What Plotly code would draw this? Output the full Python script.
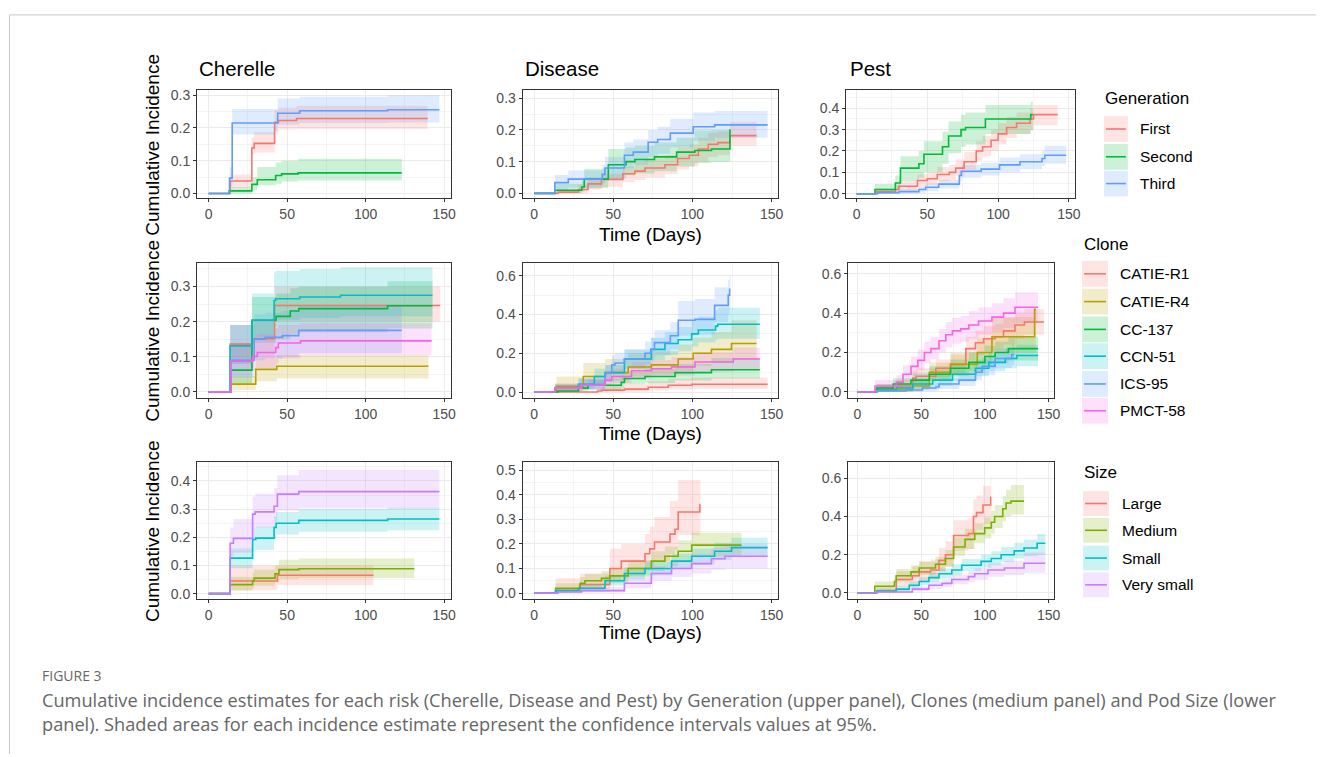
import plotly.graph_objects as go

W, H = 1322, 757

# ================= DATA (time, estimate, lower 95% CI, upper 95% CI) =================
# ---- Cherelle by Generation ----
ch_first_t = [0, 13.7, 27.5, 29, 42, 44.4, 56, 139.5]
ch_first_e = [0, 0.038, 0.139, 0.153, 0.217, 0.223, 0.229, 0.229]
ch_first_lo = [0, 0.018, 0.12, 0.125, 0.19, 0.195, 0.197, 0.197]
ch_first_hi = [0, 0.058, 0.17, 0.187, 0.255, 0.262, 0.268, 0.268]
ch_second_t = [0, 13, 27.5, 31, 42.7, 46.5, 57, 123]
ch_second_e = [0, 0.008, 0.028, 0.042, 0.055, 0.06, 0.063, 0.063]
ch_second_lo = [0, 0, 0.01, 0.025, 0.03, 0.037, 0.04, 0.04]
ch_second_hi = [0, 0.02, 0.05, 0.081, 0.095, 0.1, 0.106, 0.106]
ch_third_t = [0, 13.3, 15, 44, 58, 114, 147]
ch_third_e = [0, 0.047, 0.215, 0.245, 0.2525, 0.2556, 0.2556]
ch_third_lo = [0, 0.02, 0.18, 0.21, 0.215, 0.217, 0.217]
ch_third_hi = [0, 0.08, 0.258, 0.29, 0.295, 0.3, 0.3]

# ---- Disease by Generation ----
di_first_t = [0, 15, 28, 34, 42.5, 56, 63.6, 70, 82.6, 90.6, 98, 103.7, 110, 116, 123.7, 140.5]
di_first_e = [0, 0.004, 0.012, 0.03, 0.044, 0.062, 0.07, 0.08, 0.09, 0.11, 0.12, 0.14, 0.155, 0.16, 0.182, 0.182]
di_first_lo = [0, 0, 0, 0.012, 0.02, 0.035, 0.042, 0.05, 0.06, 0.075, 0.085, 0.1, 0.115, 0.12, 0.15, 0.15]
di_first_hi = [0, 0.012, 0.028, 0.05, 0.062, 0.085, 0.098, 0.11, 0.12, 0.145, 0.155, 0.175, 0.19, 0.195, 0.225, 0.225]
di_second_t = [0, 13, 30, 31.6, 46.8, 58, 63.6, 76, 90, 101.5, 112, 123.7, 124]
di_second_e = [0, 0.01, 0.02, 0.045, 0.09, 0.1, 0.107, 0.115, 0.13, 0.135, 0.14, 0.2, 0.2]
di_second_lo = [0, 0, 0.005, 0.016, 0.047, 0.057, 0.063, 0.07, 0.085, 0.095, 0.1, 0.1, 0.1]
di_second_hi = [0, 0.03, 0.04, 0.078, 0.14, 0.145, 0.15, 0.16, 0.175, 0.198, 0.2, 0.2, 0.2]
di_third_t = [0, 13, 21.5, 43, 44.7, 57, 62.6, 72, 78, 86, 100.5, 114, 147.5]
di_third_e = [0, 0.034, 0.045, 0.06, 0.08, 0.12, 0.13, 0.161, 0.17, 0.19, 0.21, 0.216, 0.216]
di_third_lo = [0, 0.01, 0.018, 0.03, 0.045, 0.08, 0.09, 0.115, 0.125, 0.145, 0.165, 0.175, 0.178]
di_third_hi = [0, 0.058, 0.072, 0.09, 0.115, 0.16, 0.17, 0.2, 0.21, 0.235, 0.255, 0.26, 0.26]

# ---- Pest by Generation ----
pe_first_t = [0, 14, 27.4, 29.8, 43, 50, 57, 65.5, 70, 76, 84.5, 89, 95, 100, 106, 113, 122.6, 125, 142]
pe_first_e = [0, 0.01, 0.02, 0.035, 0.062, 0.07, 0.09, 0.1, 0.12, 0.15, 0.2, 0.22, 0.25, 0.28, 0.31, 0.33, 0.35, 0.37, 0.37]
pe_first_lo = [0, 0, 0.005, 0.015, 0.035, 0.042, 0.058, 0.066, 0.082, 0.11, 0.155, 0.175, 0.2, 0.23, 0.26, 0.28, 0.3, 0.32, 0.32]
pe_first_hi = [0, 0.025, 0.04, 0.06, 0.09, 0.1, 0.125, 0.135, 0.16, 0.195, 0.245, 0.27, 0.3, 0.33, 0.36, 0.38, 0.4, 0.415, 0.415]
pe_second_t = [0, 13, 27.4, 31, 44, 47.6, 60.7, 65, 73.8, 77, 91, 123, 124.5]
pe_second_e = [0, 0.02, 0.05, 0.12, 0.14, 0.185, 0.22, 0.27, 0.3, 0.31, 0.35, 0.37, 0.37]
pe_second_lo = [0, 0.003, 0.02, 0.06, 0.075, 0.1, 0.14, 0.19, 0.22, 0.23, 0.28, 0.295, 0.295]
pe_second_hi = [0, 0.045, 0.085, 0.175, 0.2, 0.246, 0.29, 0.338, 0.37, 0.38, 0.415, 0.43, 0.43]
pe_third_t = [0, 15, 30, 44, 48.8, 58, 72.6, 74, 88, 101, 115.4, 131, 133, 148]
pe_third_e = [0, 0.005, 0.01, 0.02, 0.03, 0.045, 0.085, 0.105, 0.115, 0.135, 0.15, 0.165, 0.18, 0.18]
pe_third_lo = [0, 0, 0, 0.005, 0.012, 0.025, 0.06, 0.075, 0.085, 0.1, 0.115, 0.13, 0.14, 0.14]
pe_third_hi = [0, 0.015, 0.022, 0.035, 0.048, 0.065, 0.115, 0.135, 0.145, 0.17, 0.185, 0.2, 0.225, 0.225]

# ---- Cherelle by Clone ----
ch_r1_t = [0, 13.7, 28, 42, 147.5]
ch_r1_e = [0, 0.136, 0.151, 0.246, 0.246]
ch_r1_lo = [0, 0.08, 0.095, 0.2, 0.2]
ch_r1_hi = [0, 0.19, 0.205, 0.3, 0.3]
ch_r4_t = [0, 14.3, 30, 43.4, 140]
ch_r4_e = [0, 0.022, 0.064, 0.073, 0.073]
ch_r4_lo = [0, 0.005, 0.03, 0.038, 0.038]
ch_r4_hi = [0, 0.045, 0.095, 0.105, 0.105]
ch_cc_t = [0, 14.3, 27.6, 43, 52, 57.4, 114, 142.6]
ch_cc_e = [0, 0.062, 0.204, 0.215, 0.23, 0.237, 0.245, 0.245]
ch_cc_lo = [0, 0.02, 0.14, 0.15, 0.165, 0.17, 0.18, 0.18]
ch_cc_hi = [0, 0.13, 0.27, 0.28, 0.295, 0.3, 0.315, 0.315]
ch_ccn_t = [0, 13.7, 27.6, 41.7, 42.7, 58, 84, 142.6]
ch_ccn_e = [0, 0.131, 0.204, 0.26, 0.265, 0.27, 0.275, 0.275]
ch_ccn_lo = [0, 0.08, 0.15, 0.2, 0.205, 0.21, 0.215, 0.215]
ch_ccn_hi = [0, 0.19, 0.28, 0.34, 0.345, 0.35, 0.355, 0.355]
ch_ics_t = [0, 13.7, 29, 36, 47, 57.4, 123]
ch_ics_e = [0, 0.09, 0.15, 0.155, 0.16, 0.175, 0.175]
ch_ics_lo = [0, 0.04, 0.09, 0.095, 0.1, 0.11, 0.11]
ch_ics_hi = [0, 0.19, 0.22, 0.225, 0.23, 0.245, 0.245]
ch_pm_t = [0, 14.3, 28, 31, 42.7, 44.4, 58.5, 142]
ch_pm_e = [0, 0.087, 0.101, 0.112, 0.126, 0.139, 0.145, 0.145]
ch_pm_lo = [0, 0.045, 0.06, 0.068, 0.08, 0.095, 0.105, 0.105]
ch_pm_hi = [0, 0.14, 0.155, 0.165, 0.18, 0.19, 0.195, 0.195]

# ---- Disease by Clone ----
di_r1_t = [0, 40, 42.6, 57, 72, 84.7, 99.5, 147.5]
di_r1_e = [0, 0.005, 0.01, 0.015, 0.025, 0.035, 0.04, 0.04]
di_r1_lo = [0, 0, 0, 0.002, 0.008, 0.013, 0.016, 0.016]
di_r1_hi = [0, 0.02, 0.03, 0.04, 0.055, 0.068, 0.075, 0.075]
di_r4_t = [0, 14, 31, 44.7, 59.4, 74, 91, 100.5, 112, 124.7, 140.5]
di_r4_e = [0, 0.03, 0.08, 0.1, 0.129, 0.14, 0.17, 0.2, 0.22, 0.25, 0.25]
di_r4_lo = [0, 0.005, 0.04, 0.055, 0.08, 0.09, 0.11, 0.135, 0.15, 0.17, 0.17]
di_r4_hi = [0, 0.08, 0.15, 0.17, 0.2, 0.21, 0.245, 0.28, 0.31, 0.37, 0.37]
di_cc_t = [0, 15, 28, 34, 55, 57, 70, 89, 112, 142.6]
di_cc_e = [0, 0.005, 0.02, 0.035, 0.05, 0.07, 0.08, 0.1, 0.115, 0.115]
di_cc_lo = [0, 0, 0.003, 0.012, 0.022, 0.04, 0.045, 0.06, 0.07, 0.07]
di_cc_hi = [0, 0.02, 0.045, 0.065, 0.085, 0.105, 0.12, 0.145, 0.175, 0.175]
di_ccn_t = [0, 13, 28, 38, 45, 57, 74, 82.6, 91, 99.5, 103.7, 114.6, 116, 142.6]
di_ccn_e = [0, 0.02, 0.04, 0.08, 0.1, 0.17, 0.22, 0.25, 0.27, 0.3, 0.32, 0.34, 0.35, 0.35]
di_ccn_lo = [0, 0.003, 0.015, 0.045, 0.062, 0.12, 0.165, 0.19, 0.21, 0.235, 0.255, 0.27, 0.275, 0.275]
di_ccn_hi = [0, 0.04, 0.07, 0.12, 0.14, 0.22, 0.28, 0.31, 0.335, 0.37, 0.39, 0.42, 0.435, 0.435]
di_ics_t = [0, 13, 28, 44.7, 49, 51, 57, 70, 73.7, 76, 86, 91, 101.6, 114, 122.6, 123.5, 124]
di_ics_e = [0, 0.02, 0.04, 0.099, 0.14, 0.15, 0.17, 0.2, 0.22, 0.255, 0.29, 0.37, 0.375, 0.447, 0.5, 0.53, 0.53]
di_ics_lo = [0, 0.003, 0.015, 0.06, 0.095, 0.1, 0.12, 0.145, 0.16, 0.19, 0.22, 0.29, 0.295, 0.36, 0.4, 0.43, 0.43]
di_ics_hi = [0, 0.04, 0.07, 0.14, 0.19, 0.2, 0.22, 0.26, 0.28, 0.32, 0.36, 0.47, 0.48, 0.54, 0.58, 0.6, 0.6]
di_pm_t = [0, 13, 30, 44.7, 49, 61.5, 74, 86.8, 101.6, 125.8, 142.6]
di_pm_e = [0, 0.02, 0.035, 0.06, 0.08, 0.11, 0.12, 0.13, 0.155, 0.17, 0.17]
di_pm_lo = [0, 0.003, 0.012, 0.03, 0.045, 0.07, 0.078, 0.085, 0.105, 0.115, 0.115]
di_pm_hi = [0, 0.045, 0.065, 0.1, 0.12, 0.155, 0.165, 0.18, 0.205, 0.23, 0.23]

# ---- Pest by Clone ----
pe_r1_t = [0, 15, 30.5, 43.4, 46, 61.5, 73, 85, 92.6, 99, 108, 114.6, 123.6, 131, 146.4]
pe_r1_e = [0, 0.015, 0.03, 0.07, 0.08, 0.12, 0.14, 0.22, 0.25, 0.27, 0.28, 0.31, 0.34, 0.355, 0.355]
pe_r1_lo = [0, 0.002, 0.008, 0.035, 0.042, 0.075, 0.09, 0.16, 0.185, 0.205, 0.215, 0.24, 0.27, 0.29, 0.29]
pe_r1_hi = [0, 0.04, 0.06, 0.11, 0.12, 0.165, 0.19, 0.28, 0.31, 0.335, 0.345, 0.375, 0.405, 0.42, 0.42]
pe_r4_t = [0, 15, 43.4, 56.4, 73, 94, 105.5, 139, 140]
pe_r4_e = [0, 0.01, 0.03, 0.1, 0.14, 0.2, 0.28, 0.42, 0.42]
pe_r4_lo = [0, 0, 0.008, 0.06, 0.09, 0.14, 0.2, 0.2, 0.2]
pe_r4_hi = [0, 0.03, 0.06, 0.15, 0.2, 0.27, 0.38, 0.42, 0.42]
pe_cc_t = [0, 15, 28, 42, 56.4, 73, 87.4, 100, 108, 118.4, 141.7]
pe_cc_e = [0, 0.02, 0.04, 0.06, 0.09, 0.12, 0.15, 0.18, 0.2, 0.22, 0.22]
pe_cc_lo = [0, 0.004, 0.015, 0.03, 0.055, 0.08, 0.105, 0.13, 0.145, 0.16, 0.16]
pe_cc_hi = [0, 0.04, 0.07, 0.095, 0.13, 0.165, 0.2, 0.235, 0.255, 0.28, 0.28]
pe_ccn_t = [0, 15, 30.5, 43.4, 59, 74.5, 92.6, 103, 116, 125, 141.7]
pe_ccn_e = [0, 0.01, 0.02, 0.04, 0.06, 0.09, 0.12, 0.15, 0.17, 0.185, 0.185]
pe_ccn_lo = [0, 0, 0.004, 0.015, 0.03, 0.055, 0.08, 0.105, 0.12, 0.13, 0.13]
pe_ccn_hi = [0, 0.025, 0.04, 0.07, 0.095, 0.13, 0.165, 0.2, 0.22, 0.24, 0.24]
pe_ics_t = [0, 15, 38, 51, 61.5, 64, 79.6, 92.6, 97.7, 108, 121, 123]
pe_ics_e = [0, 0.005, 0.01, 0.02, 0.025, 0.04, 0.06, 0.1, 0.13, 0.17, 0.19, 0.19]
pe_ics_lo = [0, 0, 0, 0.003, 0.006, 0.015, 0.03, 0.06, 0.085, 0.12, 0.135, 0.135]
pe_ics_hi = [0, 0.015, 0.025, 0.04, 0.05, 0.07, 0.095, 0.145, 0.175, 0.22, 0.245, 0.245]
pe_pm_t = [0, 13.7, 30.5, 35.7, 42, 47.3, 52.5, 57.7, 64, 69.3, 74.5, 81, 87.4, 95, 105.5, 114.6, 123.6, 141.7]
pe_pm_e = [0, 0.03, 0.05, 0.09, 0.13, 0.16, 0.2, 0.22, 0.26, 0.29, 0.31, 0.32, 0.34, 0.36, 0.38, 0.4, 0.43, 0.43]
pe_pm_lo = [0, 0.008, 0.02, 0.05, 0.085, 0.11, 0.145, 0.165, 0.2, 0.225, 0.245, 0.255, 0.27, 0.29, 0.305, 0.325, 0.35, 0.35]
pe_pm_hi = [0, 0.06, 0.085, 0.135, 0.18, 0.215, 0.255, 0.28, 0.32, 0.355, 0.375, 0.385, 0.41, 0.43, 0.45, 0.475, 0.505, 0.505]

# ---- Cherelle by Size ----
ch_lg_t = [0, 13.7, 43.8, 105]
ch_lg_e = [0, 0.045, 0.065, 0.065]
ch_lg_lo = [0, 0.012, 0.03, 0.03]
ch_lg_hi = [0, 0.1, 0.1, 0.1]
ch_md_t = [0, 13.7, 28, 29, 42.3, 44.8, 57.4, 131]
ch_md_e = [0, 0.032, 0.045, 0.055, 0.07, 0.085, 0.088, 0.088]
ch_md_lo = [0, 0.01, 0.02, 0.028, 0.04, 0.052, 0.055, 0.055]
ch_md_hi = [0, 0.06, 0.075, 0.085, 0.1, 0.12, 0.125, 0.125]
ch_sm_t = [0, 13.7, 28, 30, 41.7, 43, 57.4, 114, 147]
ch_sm_e = [0, 0.126, 0.192, 0.197, 0.235, 0.25, 0.26, 0.265, 0.265]
ch_sm_lo = [0, 0.09, 0.15, 0.155, 0.195, 0.21, 0.22, 0.225, 0.225]
ch_sm_hi = [0, 0.16, 0.232, 0.238, 0.275, 0.29, 0.3, 0.305, 0.305]
ch_vs_t = [0, 13.7, 15.8, 28, 29.7, 41.7, 43.8, 57.4, 147]
ch_vs_e = [0, 0.179, 0.196, 0.282, 0.29, 0.31, 0.353, 0.362, 0.362]
ch_vs_lo = [0, 0.13, 0.145, 0.23, 0.235, 0.255, 0.295, 0.303, 0.303]
ch_vs_hi = [0, 0.235, 0.265, 0.345, 0.355, 0.375, 0.42, 0.44, 0.44]

# ---- Disease by Size ----
di_lg_t = [0, 13.5, 29, 47.8, 55, 70, 73, 76, 85.8, 89, 91, 104.7, 105]
di_lg_e = [0, 0.01, 0.035, 0.1, 0.13, 0.16, 0.18, 0.208, 0.24, 0.26, 0.33, 0.36, 0.36]
di_lg_lo = [0, 0, 0.005, 0.047, 0.07, 0.095, 0.11, 0.13, 0.16, 0.175, 0.235, 0.25, 0.25]
di_lg_hi = [0, 0.06, 0.08, 0.18, 0.2, 0.24, 0.27, 0.31, 0.375, 0.375, 0.46, 0.46, 0.46]
di_md_t = [0, 13.5, 29, 32, 42.5, 47.8, 59.4, 74, 82.6, 91, 99.5, 131]
di_md_e = [0, 0.02, 0.04, 0.05, 0.06, 0.07, 0.1, 0.13, 0.15, 0.17, 0.195, 0.195]
di_md_lo = [0, 0.005, 0.018, 0.025, 0.033, 0.04, 0.065, 0.09, 0.108, 0.125, 0.15, 0.15]
di_md_hi = [0, 0.04, 0.065, 0.078, 0.09, 0.1, 0.135, 0.17, 0.19, 0.215, 0.245, 0.245]
di_sm_t = [0, 13.5, 28, 44.7, 57, 70, 86.8, 99.5, 114, 124.7, 147.5]
di_sm_e = [0, 0.01, 0.02, 0.05, 0.08, 0.1, 0.13, 0.15, 0.17, 0.185, 0.185]
di_sm_lo = [0, 0.002, 0.008, 0.03, 0.055, 0.072, 0.1, 0.115, 0.135, 0.15, 0.15]
di_sm_hi = [0, 0.02, 0.035, 0.072, 0.105, 0.128, 0.16, 0.18, 0.205, 0.225, 0.225]
di_vs_t = [0, 15, 30, 57, 74, 86.8, 99.5, 112, 120.5, 147.5]
di_vs_e = [0, 0.005, 0.01, 0.04, 0.08, 0.1, 0.12, 0.14, 0.15, 0.15]
di_vs_lo = [0, 0, 0.002, 0.02, 0.05, 0.065, 0.08, 0.095, 0.1, 0.1]
di_vs_hi = [0, 0.015, 0.025, 0.065, 0.11, 0.135, 0.16, 0.185, 0.2, 0.2]

# ---- Pest by Size ----
pe_lg_t = [0, 15, 30.4, 43, 48.4, 57.4, 64, 69, 75.4, 87, 91, 93.4, 98.5, 104.5, 105]
pe_lg_e = [0, 0.01, 0.07, 0.09, 0.11, 0.12, 0.17, 0.2, 0.3, 0.31, 0.4, 0.42, 0.46, 0.5, 0.5]
pe_lg_lo = [0, 0, 0.03, 0.045, 0.06, 0.07, 0.11, 0.135, 0.22, 0.23, 0.31, 0.33, 0.36, 0.4, 0.4]
pe_lg_hi = [0, 0.03, 0.115, 0.14, 0.165, 0.175, 0.235, 0.27, 0.38, 0.39, 0.49, 0.51, 0.56, 0.61, 0.61]
pe_md_t = [0, 13.6, 29, 30.4, 42, 48.4, 61.2, 69, 75.4, 84.4, 92, 99.8, 105, 107.6, 114, 116.6, 120.4, 130.7]
pe_md_e = [0, 0.035, 0.06, 0.09, 0.11, 0.13, 0.15, 0.18, 0.24, 0.28, 0.31, 0.34, 0.37, 0.4, 0.44, 0.47, 0.48, 0.48]
pe_md_lo = [0, 0.015, 0.035, 0.06, 0.08, 0.095, 0.115, 0.14, 0.195, 0.23, 0.26, 0.285, 0.31, 0.34, 0.375, 0.4, 0.41, 0.41]
pe_md_hi = [0, 0.06, 0.09, 0.125, 0.145, 0.165, 0.19, 0.225, 0.29, 0.335, 0.365, 0.395, 0.43, 0.46, 0.505, 0.54, 0.565, 0.565]
pe_sm_t = [0, 15, 30.4, 40.6, 48.4, 56, 64, 74, 81.8, 97, 105, 112.7, 123, 130.7, 141, 147.4]
pe_sm_e = [0, 0.01, 0.02, 0.04, 0.06, 0.08, 0.1, 0.12, 0.145, 0.165, 0.18, 0.2, 0.22, 0.235, 0.26, 0.26]
pe_sm_lo = [0, 0.002, 0.008, 0.022, 0.04, 0.057, 0.074, 0.092, 0.115, 0.132, 0.145, 0.162, 0.18, 0.192, 0.2, 0.2]
pe_sm_hi = [0, 0.02, 0.035, 0.06, 0.082, 0.105, 0.128, 0.15, 0.178, 0.2, 0.218, 0.24, 0.262, 0.28, 0.31, 0.31]
pe_vs_t = [0, 15, 43, 56, 66.4, 74, 87, 92, 102.4, 115.3, 130.7, 147.4]
pe_vs_e = [0, 0.005, 0.02, 0.04, 0.05, 0.07, 0.085, 0.1, 0.12, 0.13, 0.155, 0.155]
pe_vs_lo = [0, 0, 0.008, 0.022, 0.03, 0.045, 0.057, 0.068, 0.085, 0.093, 0.105, 0.105]
pe_vs_hi = [0, 0.015, 0.035, 0.06, 0.072, 0.095, 0.113, 0.13, 0.155, 0.168, 0.212, 0.212]

# ---- labels ----
risks = ["Cherelle", "Disease", "Pest"]
legend_titles = ["Generation", "Clone", "Size"]
gen_labels = ["First", "Second", "Third"]
clone_labels = ["CATIE-R1", "CATIE-R4", "CC-137", "CCN-51", "ICS-95", "PMCT-58"]
size_labels = ["Large", "Medium", "Small", "Very small"]
x_ticks = [0, 50, 100, 150]
x_minor = [25, 75, 125]
y_title = "Cumulative Incidence"
x_title = "Time (Days)"
caption_head = "FIGURE 3"
caption_l1 = ("Cumulative incidence estimates for each risk (Cherelle, Disease and Pest) by Generation "
              "(upper panel), Clones (medium panel) and Pod Size (lower")
caption_l2 = "panel). Shaded areas for each incidence estimate represent the confidence intervals values at 95%."

# ================= STYLE =================
PAL3 = ["#F8766D", "#00BA38", "#619CFF"]
PAL6 = ["#F8766D", "#B79F00", "#00BA38", "#00BFC4", "#619CFF", "#F564E3"]
PAL4 = ["#F8766D", "#7CAE00", "#00BFC4", "#C77CFF"]
FONT = "Liberation Sans, Arial, sans-serif"


def rgba(hx, a):
    hx = hx.lstrip("#")
    r, g, b = int(hx[0:2], 16), int(hx[2:4], 16), int(hx[4:6], 16)
    return f"rgba({r},{g},{b},{a})"


def fx(x):
    return x / W


def fy(y):
    return 1 - y / H


# curves per panel: rows = grouping, cols = risk
G = globals()
row_groups = [
    (["first", "second", "third"], PAL3),
    (["r1", "r4", "cc", "ccn", "ics", "pm"], PAL6),
    (["lg", "md", "sm", "vs"], PAL4),
]
risk_prefix = ["ch", "di", "pe"]

col_px = [[(198, 453), (525, 782), (850, 1080)],
          [(198, 453), (525, 782), (852, 1059)],
          [(198, 453), (525, 782), (852, 1059)]]
row_px = [(88, 197), (262, 398), (463, 601)]
y_ranges = [[(-0.015, 0.315), (-0.016, 0.325), (-0.022, 0.484)],
            [(-0.017, 0.367), (-0.03, 0.666), (-0.03, 0.655)],
            [(-0.02, 0.466), (-0.025, 0.532), (-0.033, 0.683)]]
y_ticks = [[[0, 0.1, 0.2, 0.3], [0, 0.1, 0.2, 0.3], [0, 0.1, 0.2, 0.3, 0.4]],
           [[0, 0.1, 0.2, 0.3], [0, 0.2, 0.4, 0.6], [0, 0.2, 0.4, 0.6]],
           [[0, 0.1, 0.2, 0.3, 0.4], [0, 0.1, 0.2, 0.3, 0.4, 0.5], [0, 0.2, 0.4, 0.6]]]
y_minor = [[[0.05, 0.15, 0.25], [0.05, 0.15, 0.25], [0.05, 0.15, 0.25, 0.35, 0.45]],
           [[0.05, 0.15, 0.25, 0.35], [0.1, 0.3, 0.5], [0.1, 0.3, 0.5]],
           [[0.05, 0.15, 0.25, 0.35, 0.45], [0.05, 0.15, 0.25, 0.35, 0.45], [0.1, 0.3, 0.5]]]

fig = go.Figure()
layout = {}
for r in range(3):
    keys, pal = row_groups[r]
    for c in range(3):
        i = r * 3 + c + 1
        xa, ya = f"x{i}", f"y{i}"
        pre = risk_prefix[c]
        # ribbons
        for k, col in zip(keys, pal):
            t = G[f"{pre}_{k}_t"]
            fig.add_trace(go.Scatter(x=t, y=G[f"{pre}_{k}_hi"], mode="lines", line=dict(width=0, shape="hv"),
                                     xaxis=xa, yaxis=ya, showlegend=False, hoverinfo="skip"))
            fig.add_trace(go.Scatter(x=t, y=G[f"{pre}_{k}_lo"], mode="lines", line=dict(width=0, shape="hv"),
                                     fill="tonexty", fillcolor=rgba(col, 0.2),
                                     xaxis=xa, yaxis=ya, showlegend=False, hoverinfo="skip"))
        for k, col in zip(keys, pal):
            fig.add_trace(go.Scatter(x=G[f"{pre}_{k}_t"], y=G[f"{pre}_{k}_e"], mode="lines",
                                     line=dict(width=1.6, color=col, shape="hv"),
                                     xaxis=xa, yaxis=ya, showlegend=False))
        x0, x1 = col_px[r][c]
        y0, y1 = row_px[r]
        axcommon = dict(showline=True, mirror=True, linecolor="#333333", linewidth=1,
                        ticks="outside", ticklen=3, tickcolor="#333333", tickwidth=1,
                        showgrid=True, gridcolor="#ebebeb", gridwidth=1.1, zeroline=False,
                        tickfont=dict(family=FONT, size=14, color="#4d4d4d"))
        layout["xaxis" + ("" if i == 1 else str(i))] = dict(
            domain=[fx(x0), fx(x1)], range=[-7.35, 154.35], anchor=ya,
            tickmode="array", tickvals=x_ticks,
            minor=dict(tickvals=x_minor, showgrid=True, gridcolor="#f4f4f4", gridwidth=0.6, ticks=""),
            **axcommon)
        layout["yaxis" + ("" if i == 1 else str(i))] = dict(
            domain=[fy(y1), fy(y0)], range=list(y_ranges[r][c]), anchor=xa,
            tickmode="array", tickvals=y_ticks[r][c], tickformat=".1f",
            minor=dict(tickvals=y_minor[r][c], showgrid=True, gridcolor="#f4f4f4", gridwidth=0.6, ticks=""),
            **axcommon)

ann = []
shapes = []
# panel titles
title_x = [198, 525, 852]
for c in range(3):
    ann.append(dict(text=risks[c], x=fx(title_x[c]), y=fy(66), xref="paper", yref="paper",
                    xanchor="left", yanchor="middle", showarrow=False,
                    font=dict(family=FONT, size=20.5, color="#000")))
# axis titles
for r in range(3):
    y0, y1 = row_px[r]
    ann.append(dict(text=y_title, x=fx(153), y=fy((y0 + y1) / 2), xref="paper", yref="paper",
                    textangle=-90, xanchor="center", yanchor="middle", showarrow=False,
                    font=dict(family=FONT, size=19, color="#000")))
for yy in [233, 434, 635]:
    ann.append(dict(text=x_title, x=fx(653.5), y=fy(yy), xref="paper", yref="paper",
                    xanchor="center", yanchor="middle", showarrow=False,
                    font=dict(family=FONT, size=19, color="#000")))

# legends
legend_specs = [
    (legend_titles[0], gen_labels, PAL3, 1108, 96, 1109, 1133, 1143, [114, 142, 169], 26),
    (legend_titles[1], clone_labels, PAL6, 1087, 243, 1087, 1113, 1123, [260, 288, 316, 343, 371, 398], 26),
    (legend_titles[2], size_labels, PAL4, 1087, 473, 1088, 1114, 1125, [492, 519, 547, 574], 25),
]
for title, labels, pal, tx, ty, kx0, kx1, lx, tops, kh in legend_specs:
    ann.append(dict(text=title, x=fx(tx), y=fy(ty), xref="paper", yref="paper",
                    xanchor="left", yanchor="middle", showarrow=False,
                    font=dict(family=FONT, size=17, color="#000")))
    for lab, col, top in zip(labels, pal, tops):
        shapes.append(dict(type="rect", xref="paper", yref="paper", x0=fx(kx0), x1=fx(kx1),
                           y0=fy(top + kh), y1=fy(top), fillcolor=rgba(col, 0.2), line=dict(width=0)))
        shapes.append(dict(type="line", xref="paper", yref="paper", x0=fx(kx0 + 2), x1=fx(kx1 - 2),
                           y0=fy(top + kh / 2), y1=fy(top + kh / 2), line=dict(color=col, width=1.6)))
        ann.append(dict(text=lab, x=fx(lx), y=fy(top + kh / 2), xref="paper", yref="paper",
                        xanchor="left", yanchor="middle", showarrow=False,
                        font=dict(family=FONT, size=15.5, color="#000")))

# caption
ann.append(dict(text=caption_head, x=fx(40), y=fy(678), xref="paper", yref="paper",
                xanchor="left", yanchor="middle", showarrow=False,
                font=dict(family="Open Sans, sans-serif", size=14, color="#666")))
for txt, yy in [(caption_l1, 703), (caption_l2, 727)]:
    ann.append(dict(text=txt, x=fx(40), y=fy(yy), xref="paper", yref="paper",
                    xanchor="left", yanchor="middle", showarrow=False,
                    font=dict(family="Open Sans, sans-serif", size=18.2, color="#666")))

# card frame
shapes.append(dict(type="line", xref="paper", yref="paper", x0=fx(9.5), x1=1, y0=fy(12), y1=fy(12),
                   line=dict(color="#c8c8c8", width=1)))
shapes.append(dict(type="line", xref="paper", yref="paper", x0=fx(9.5), x1=fx(9.5), y0=fy(12), y1=0,
                   line=dict(color="#c8c8c8", width=1)))

fig.update_layout(width=W, height=H, margin=dict(l=0, r=0, t=0, b=0),
                  paper_bgcolor="white", plot_bgcolor="white", showlegend=False,
                  annotations=ann, shapes=shapes, **layout)
fig.write_html("out.html")
